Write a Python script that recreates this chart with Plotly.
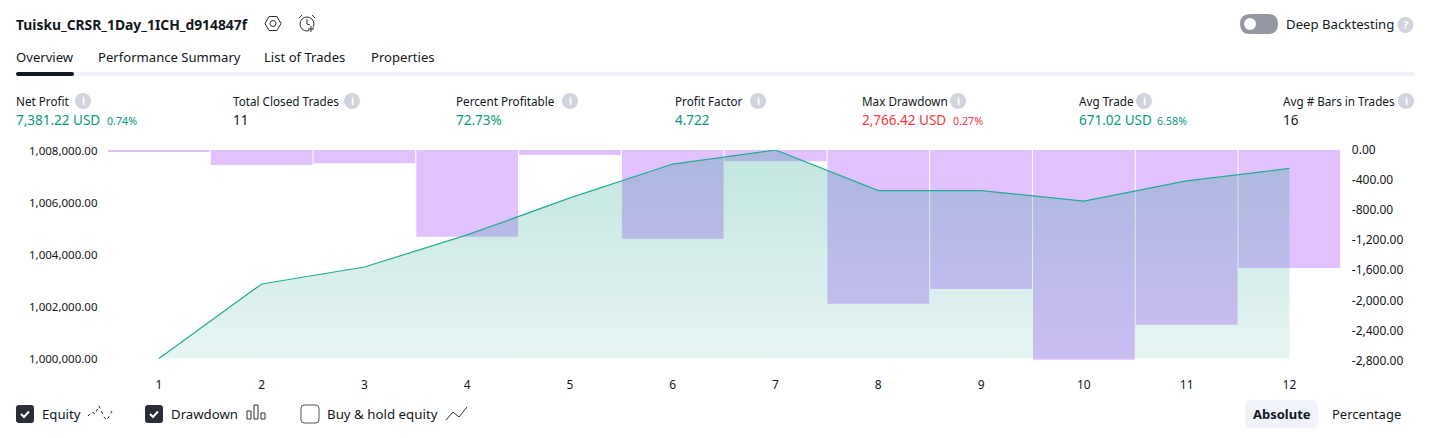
import plotly.graph_objects as go

W, H = 1431, 438
FONT = "Noto Sans"
DARK = "#131722"
GREEN = "#089981"
RED = "#f23645"
PURPLE = "#e1c2fe"
GREY = "#d1d4dc"

trades = [1, 2, 3, 4, 5, 6, 7, 8, 9, 10, 11, 12]
equity = [1000000, 1002871, 1003524, 1004760, 1006185, 1007490, 1008031,
          1006470, 1006470, 1006065, 1006840, 1007320]
equity_base = [1000000] * 12
drawdown = [-15, -200, -175, -1155, -65, -1180, -150, -2045, -1850, -2790, -2325, -1570]

equity_ticks = [1000000, 1002000, 1004000, 1006000, 1008000]
equity_ticktext = ["1,000,000.00", "1,002,000.00", "1,004,000.00", "1,006,000.00", "1,008,000.00"]
dd_ticks = [0, -400, -800, -1200, -1600, -2000, -2400, -2800]
dd_ticktext = ["0.00", "-400.00", "-800.00", "-1,200.00", "-1,600.00", "-2,000.00", "-2,400.00", "-2,800.00"]

tabs = [("Overview", 16), ("Performance Summary", 98), ("List of Trades", 264), ("Properties", 371)]
metrics = [
    ("Net Profit", 16, 83, "7,381.22 USD", GREEN, "0.74%", 107),
    ("Total Closed Trades", 233, 352, "11", DARK, "", 0),
    ("Percent Profitable", 456, 570, "72.73%", GREEN, "", 0),
    ("Profit Factor", 675, 758, "4.722", GREEN, "", 0),
    ("Max Drawdown", 862, 958, "2,766.42 USD", RED, "0.27%", 953),
    ("Avg Trade", 1079, 1144, "671.02 USD", GREEN, "6.58%", 1157),
    ("Avg # Bars in Trades", 1283, 1406, "16", DARK, "", 0),
]


def fx(x):
    return x / W


def fy(y):
    return 1 - y / H


def text(s, x, y, size=13, color=DARK, anchor="left", bold=False):
    return dict(text=f"<b>{s}</b>" if bold else s, x=fx(x), y=fy(y), xref="paper", yref="paper",
                showarrow=False, xanchor=anchor, yanchor="middle", borderpad=0, borderwidth=0,
                font=dict(family=FONT, size=size, color=color))


def path(points, color, width=1, close=False, fill=None, dash=None):
    d = "M" + " L".join(f"{fx(a):.5f},{fy(b):.5f}" for a, b in points) + (" Z" if close else "")
    line = dict(color=color, width=width)
    if dash:
        line["dash"] = dash
    s = dict(type="path", path=d, xref="paper", yref="paper", line=line)
    if fill:
        s["fillcolor"] = fill
    return s


def box(x0, y0, x1, y1, fill=None, line=None, width=0, r=0):
    pts = (f"M{fx(x0+r):.5f},{fy(y0):.5f} L{fx(x1-r):.5f},{fy(y0):.5f} "
           f"Q{fx(x1):.5f},{fy(y0):.5f} {fx(x1):.5f},{fy(y0+r):.5f} L{fx(x1):.5f},{fy(y1-r):.5f} "
           f"Q{fx(x1):.5f},{fy(y1):.5f} {fx(x1-r):.5f},{fy(y1):.5f} L{fx(x0+r):.5f},{fy(y1):.5f} "
           f"Q{fx(x0):.5f},{fy(y1):.5f} {fx(x0):.5f},{fy(y1-r):.5f} L{fx(x0):.5f},{fy(y0+r):.5f} "
           f"Q{fx(x0):.5f},{fy(y0):.5f} {fx(x0+r):.5f},{fy(y0):.5f} Z")
    s = dict(type="path", path=pts, xref="paper", yref="paper",
             line=dict(color=line or "rgba(0,0,0,0)", width=width))
    s["fillcolor"] = fill or "rgba(0,0,0,0)"
    return s


def circle(cx, cy, r, fill=None, line=None, width=0):
    return dict(type="circle", xref="paper", yref="paper", x0=fx(cx - r), x1=fx(cx + r),
                y0=fy(cy + r), y1=fy(cy - r), fillcolor=fill or "rgba(0,0,0,0)",
                line=dict(color=line or "rgba(0,0,0,0)", width=width))


shapes, notes = [], []

# header
notes.append(text("Tuisku_CRSR_1Day_1ICH_d914847f", 16, 24, 13.85, DARK, bold=True))
hexagon = [(265, 23.5), (269, 16.5), (277, 16.5), (281, 23.5), (277, 30.5), (269, 30.5)]
shapes.append(path(hexagon, "#2a2e39", 1, close=True))
shapes.append(circle(273, 23.5, 3, line="#2a2e39", width=1))
shapes.append(circle(307, 24, 7, line="#2a2e39", width=1))
shapes.append(path([(307, 19), (307, 24), (310, 25)], "#2a2e39", 1))
shapes.append(path([(299, 18), (302, 15)], "#2a2e39", 1))
shapes.append(path([(312, 15), (315, 18)], "#2a2e39", 1))
shapes.append(path([(311, 27), (311, 31)], "#ffffff", 3))
shapes.append(path([(311, 26), (311, 32)], "#2a2e39", 1))
shapes.append(path([(308, 29), (314, 29)], "#2a2e39", 1))

# toggle
shapes.append(box(1240, 14, 1278, 34, fill="#9598a1", r=10))
shapes.append(circle(1250, 24, 6, fill="#ffffff"))
notes.append(text("Deep Backtesting", 1286, 24, 13.2))
shapes.append(circle(1405.5, 25, 8, fill=GREY))
notes.append(text("?", 1405.5, 25, 11, "#ffffff", "center", True))

# tabs
for label, x in tabs:
    notes.append(text(label, x, 57, 13.1))
shapes.append(box(16, 72, 1415, 76, fill="#f0f3fa", r=2))
shapes.append(box(16, 72, 74, 76, fill=DARK, r=2))

# metrics
for label, x, ix, val, col, pct, px_ in metrics:
    notes.append(text(label, x, 101, 11.7))
    shapes.append(circle(ix, 101, 8, fill=GREY))
    notes.append(text("i", ix, 101, 10, "#ffffff", "center", True))
    notes.append(text(val, x, 120, 13.5, col))
    if pct:
        notes.append(text(pct, px_, 120.5, 10.7, col))

# bottom controls
for x in (16, 145):
    shapes.append(box(x, 405, x + 18, 423, fill="#2a2e39", r=3))
    shapes.append(path([(x + 5, 414), (x + 8, 417), (x + 13, 411.5)], "#ffffff", 2))
shapes.append(box(301, 405, 319, 423, fill="#ffffff", line="#50535e", width=1, r=3))
notes.append(text("Equity", 42, 414, 13.2))
notes.append(text("Drawdown", 171, 414, 13.2))
notes.append(text("Buy &amp; hold equity", 327, 414, 13.3))
shapes.append(path([(88, 416), (92, 412), (95, 414), (99, 406), (104, 417), (107, 420), (112, 411)],
                   "#2a2e39", 1, dash="dot"))
for x0, x1, top in ((247, 251, 411), (254, 258, 405), (261, 265, 413)):
    shapes.append(box(x0, top, x1, 419, line="#2a2e39", width=1))
shapes.append(path([(446, 420), (453, 412), (459, 417), (467, 407)], "#2a2e39", 1))
shapes.append(box(1245, 400, 1318, 428, fill="#f0f3fa", r=6))
notes.append(text("Absolute", 1281.5, 414, 13, DARK, "center", True))
notes.append(text("Percentage", 1366.5, 414, 13, DARK, "center"))

fig = go.Figure()
fig.add_trace(go.Bar(x=trades, y=drawdown, yaxis="y", marker=dict(color=PURPLE, line=dict(width=0)),
                     width=0.99, name="Drawdown", hoverinfo="skip"))
fig.add_trace(go.Scatter(x=trades, y=equity_base, yaxis="y2", mode="lines", line=dict(width=0),
                         hoverinfo="skip", showlegend=False))
fig.add_trace(go.Scatter(x=trades, y=equity, yaxis="y2", mode="lines", fill="tonexty",
                         line=dict(color="#22ab94", width=1.2), name="Equity", hoverinfo="skip",
                         fillgradient=dict(type="vertical",
                                           colorscale=[[0, "rgba(8,153,129,0.1)"], [1, "rgba(8,153,129,0.25)"]])))

tick_font = dict(family=FONT, size=12, color=DARK)
left_font = dict(family=FONT, size=11.5, color=DARK)
fig.update_layout(
    width=W, height=H, autosize=False, margin=dict(l=0, r=0, t=0, b=0),
    paper_bgcolor="#ffffff", plot_bgcolor="rgba(0,0,0,0)", showlegend=False,
    xaxis=dict(domain=[fx(107.5), fx(1340.8)], range=[0.5, 12.5], tickmode="array", tickvals=trades,
               ticktext=[str(t) for t in trades], showgrid=False, zeroline=False, showline=False,
               ticks="", tickfont=tick_font, anchor="y", automargin=False, fixedrange=True,
               ticklabelstandoff=15),
    yaxis=dict(domain=[fy(360.5), fy(150)], range=[-2800, 0], side="right", tickmode="array",
               tickvals=dd_ticks, ticktext=dd_ticktext, showgrid=False, zeroline=False, showline=False,
               ticks="", tickfont=tick_font, automargin=False, fixedrange=True, ticklabelstandoff=10),
    yaxis2=dict(domain=[fy(360.5), fy(150)], range=[999923, 1008031], side="left", overlaying="y",
                tickmode="array", tickvals=equity_ticks, ticktext=equity_ticktext, showgrid=False,
                zeroline=False, showline=False, ticks="", tickfont=left_font, automargin=False,
                fixedrange=True, ticklabelstandoff=9),
    shapes=shapes, annotations=notes,
)

fig.write_html("out.html", config={"displayModeBar": False, "responsive": False},
               post_script="document.body.style.margin='0';document.body.style.overflow='hidden';")
